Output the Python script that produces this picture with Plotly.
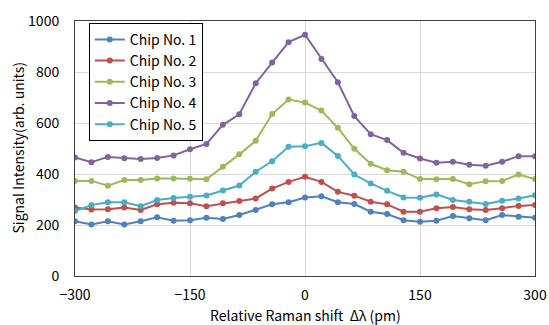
import plotly.graph_objects as go

shift_pm = [-300, -278.6, -257.1, -235.7, -214.3, -192.9, -171.4, -150, -128.6, -107.1,
            -85.7, -64.3, -42.9, -21.4, 0, 21.4, 42.9, 64.3, 85.7, 107.1,
            128.6, 150, 171.4, 192.9, 214.3, 235.7, 257.1, 278.6, 300]

chip1 = [215, 202, 215, 202, 215, 230, 217, 219, 228, 224, 239, 259, 281, 289, 308,
         313, 289, 282, 252, 243, 219, 213, 217, 235, 226, 219, 239, 232, 228]
chip2 = [269, 261, 262, 269, 259, 281, 287, 285, 274, 285, 294, 304, 343, 369, 389,
         369, 330, 315, 291, 281, 252, 252, 266, 271, 262, 259, 266, 275, 278]
chip3 = [373, 373, 354, 376, 376, 382, 382, 381, 379, 428, 477, 530, 635, 692, 680,
         649, 581, 499, 440, 415, 409, 380, 379, 380, 360, 372, 373, 398, 380]
chip4 = [465, 446, 467, 462, 459, 463, 473, 497, 518, 593, 634, 756, 837, 917, 946,
         851, 760, 627, 556, 533, 483, 461, 444, 448, 436, 432, 448, 470, 470]
chip5 = [255, 278, 289, 289, 274, 298, 306, 311, 316, 335, 355, 409, 450, 507, 509,
         522, 471, 398, 363, 334, 308, 307, 320, 298, 291, 282, 295, 304, 317]

series = [
    ("Chip No. 1", chip1, "#4F81BD"),
    ("Chip No. 2", chip2, "#C0504D"),
    ("Chip No. 3", chip3, "#9BBB59"),
    ("Chip No. 4", chip4, "#8064A2"),
    ("Chip No. 5", chip5, "#4BACC6"),
]

x_title = "Relative Raman shift  Δλ (pm)"
y_title = "Signal Intensity(arb. units)"

font_family = "Noto Sans CJK JP, DejaVu Sans, sans-serif"

fig = go.Figure()
for name, vals, color in series:
    fig.add_trace(go.Scatter(
        x=shift_pm, y=vals, name=name, mode="lines+markers",
        line=dict(color=color, width=2),
        marker=dict(color=color, size=6, symbol="circle"),
    ))

fig.update_layout(
    width=549, height=325,
    margin=dict(l=75, r=14, t=21, b=49, autoexpand=False),
    paper_bgcolor="white", plot_bgcolor="white",
    font=dict(family=font_family, size=14, color="#000000"),
    showlegend=True,
    legend=dict(
        x=0.03, y=0.993, xanchor="left", yanchor="top",
        bgcolor="white", bordercolor="#000000", borderwidth=1,
        font=dict(family=font_family, size=14, color="#000000"),
        tracegroupgap=0, itemwidth=30,
    ),
    xaxis=dict(
        range=[-300, 300], tickmode="array", tickvals=[-300, -150, 0, 150, 300],
        showgrid=True, gridcolor="#D9D9D9", gridwidth=1,
        showline=True, linecolor="#404040", linewidth=1, mirror=True,
        zeroline=False, ticks="", ticklen=0, ticklabelstandoff=6,
        automargin=False,
        tickfont=dict(family=font_family, size=14),
    ),
    yaxis=dict(
        range=[0, 1000], tickmode="array", tickvals=[0, 200, 400, 600, 800, 1000],
        showgrid=True, gridcolor="#D9D9D9", gridwidth=1,
        showline=True, linecolor="#404040", linewidth=1, mirror=True,
        zeroline=False, ticks="", ticklen=0, ticklabelstandoff=12,
        automargin=False,
        tickfont=dict(family=font_family, size=14),
    ),
    annotations=[
        dict(text=x_title, xref="paper", yref="paper", x=0.5, y=-0.152,
             xanchor="center", yanchor="middle", showarrow=False,
             font=dict(family=font_family, size=14)),
        dict(text=y_title, xref="paper", yref="paper", x=-0.126, y=0.5,
             xanchor="center", yanchor="middle", textangle=-90, showarrow=False,
             font=dict(family=font_family, size=14)),
    ],
)

fig.write_html("out.html")
